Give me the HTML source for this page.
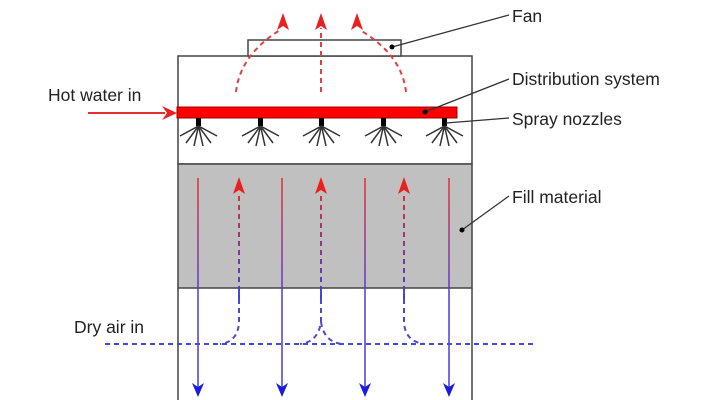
<!DOCTYPE html>
<html><head><meta charset="utf-8"><style>html,body{margin:0;padding:0;background:#fff}svg{display:block}text{font-family:"Liberation Sans",sans-serif;font-size:17.5px;fill:#222}</style></head><body>
<svg width="720" height="400" viewBox="0 0 720 400" xmlns="http://www.w3.org/2000/svg">
<defs>
<linearGradient id="rb" gradientUnits="userSpaceOnUse" x1="0" y1="178" x2="0" y2="290"><stop offset="0" stop-color="#e53030"/><stop offset="1" stop-color="#5a3ad0"/></linearGradient>
<linearGradient id="rb2" gradientUnits="userSpaceOnUse" x1="0" y1="180" x2="0" y2="300"><stop offset="0" stop-color="#e53030"/><stop offset="1" stop-color="#4040d0"/></linearGradient>
</defs>
<rect x="178" y="56" width="294" height="108" fill="#fff" stroke="#444" stroke-width="1.5"/>
<rect x="178" y="164" width="294" height="124" fill="#c0c0c0" stroke="#444" stroke-width="1.5"/>
<line x1="178" y1="288" x2="178" y2="400" stroke="#444" stroke-width="1.5"/>
<line x1="472" y1="288" x2="472" y2="400" stroke="#444" stroke-width="1.5"/>
<rect x="248" y="40" width="153" height="16" fill="#fff" stroke="#444" stroke-width="1.5"/>
<g stroke="#e04040" stroke-width="2" stroke-dasharray="5,4" fill="none">
<path d="M236,92 Q240,55 280,30"/>
<line x1="321" y1="92" x2="321" y2="28"/>
<path d="M406,92 Q402,55 360,30"/>
</g>
<g fill="#e82020">
<path d="M283,13 L277,30 L283,26 L289,30 Z"/>
<path d="M321,13 L315,30 L321,26 L327,30 Z"/>
<path d="M357,13 L351,30 L357,26 L363,30 Z"/>
</g>
<rect x="177" y="107" width="280" height="11" fill="#f00" stroke="#900" stroke-width="1"/>
<line x1="88" y1="113" x2="165" y2="113" stroke="#e03030" stroke-width="2"/>
<path d="M177,113 L162,106 L167,113 L162,120 Z" fill="#e82020"/>
<g stroke="#333" stroke-width="1.5">
<g id="nz"><rect x="196" y="118" width="5" height="8" fill="#000" stroke="none"/>
<line x1="198.5" y1="126" x2="180" y2="136"/><line x1="198.5" y1="126" x2="186" y2="143"/><line x1="198.5" y1="126" x2="194" y2="146"/><line x1="198.5" y1="126" x2="203" y2="146"/><line x1="198.5" y1="126" x2="211" y2="143"/><line x1="198.5" y1="126" x2="217" y2="136"/></g>
<use href="#nz" x="62"/><use href="#nz" x="123"/><use href="#nz" x="185"/><use href="#nz" x="246"/>
</g>
<g stroke="url(#rb)" stroke-width="1.5">
<line x1="198" y1="178" x2="198" y2="290"/><line x1="282" y1="178" x2="282" y2="290"/><line x1="365" y1="178" x2="365" y2="290"/><line x1="449" y1="178" x2="449" y2="290"/>
</g>
<g stroke="#4a3ad8" stroke-width="1.5">
<line x1="198" y1="290" x2="198" y2="388"/><line x1="282" y1="290" x2="282" y2="388"/><line x1="365" y1="290" x2="365" y2="388"/><line x1="449" y1="290" x2="449" y2="388"/>
</g>
<g fill="#1a1ae0">
<path d="M198,397 L192,383 L198,387 L204,383 Z"/><path d="M282,397 L276,383 L282,387 L288,383 Z"/><path d="M365,397 L359,383 L365,387 L371,383 Z"/><path d="M449,397 L443,383 L449,387 L455,383 Z"/>
</g>
<g stroke="url(#rb2)" stroke-width="2" stroke-dasharray="5,4" fill="none">
<line x1="239" y1="300" x2="239" y2="192"/><line x1="321" y1="300" x2="321" y2="192"/><line x1="404" y1="300" x2="404" y2="192"/>
</g>
<g fill="#e82020">
<path d="M239,177 L233,194 L239,190 L245,194 Z"/><path d="M321,177 L315,194 L321,190 L327,194 Z"/><path d="M404,177 L398,194 L404,190 L410,194 Z"/>
</g>
<g stroke="#4a4ad0" stroke-width="2" stroke-dasharray="5,4" fill="none">
<path d="M239,290 L239,322 Q238,342 220,344"/>
<path d="M321,290 L321,322 Q318,342 300,344"/>
<path d="M321,322 Q324,342 342,344"/>
<path d="M404,290 L404,322 Q405,342 425,344"/>
<line x1="105" y1="344" x2="537" y2="344"/>
</g>
<g stroke="#333" stroke-width="1.3">
<line x1="392" y1="47" x2="509" y2="15"/>
<line x1="425" y1="112" x2="509" y2="79"/>
<line x1="446" y1="123" x2="509" y2="118"/>
<line x1="462" y1="230" x2="509" y2="196"/>
</g>
<g fill="#000"><circle cx="392" cy="47" r="2.5"/><circle cx="425" cy="112" r="2.5"/><circle cx="462" cy="230" r="2.5"/></g>
<text x="512" y="22">Fan</text>
<text x="512" y="85">Distribution system</text>
<text x="512" y="125">Spray nozzles</text>
<text x="512" y="203">Fill material</text>
<text x="48" y="101">Hot water in</text>
<text x="74" y="333">Dry air in</text>
</svg>
</body></html>
